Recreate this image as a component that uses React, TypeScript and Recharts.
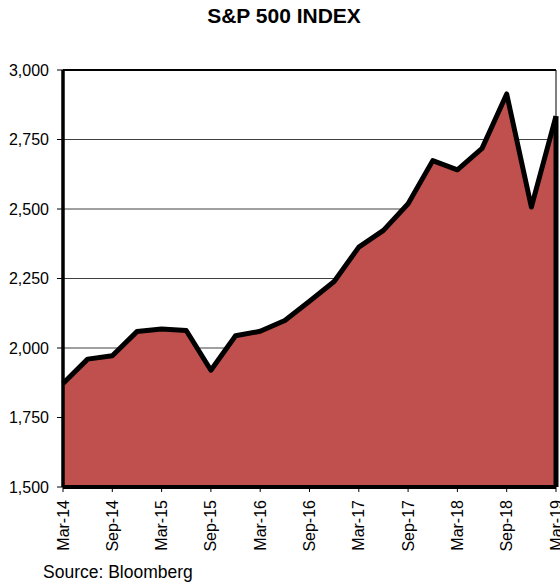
import React from "react";
import { AreaChart, Area, XAxis, YAxis, CartesianGrid, ReferenceLine } from "recharts";

// quarterly closes, Mar-14 .. Mar-19
const quarters = [
  "Mar-14", "Jun-14", "Sep-14", "Dec-14",
  "Mar-15", "Jun-15", "Sep-15", "Dec-15",
  "Mar-16", "Jun-16", "Sep-16", "Dec-16",
  "Mar-17", "Jun-17", "Sep-17", "Dec-17",
  "Mar-18", "Jun-18", "Sep-18", "Dec-18",
  "Mar-19",
];
const spx = [
  1872, 1960, 1972, 2059,
  2068, 2063, 1920, 2044,
  2060, 2099, 2168, 2239,
  2363, 2423, 2519, 2674,
  2641, 2718, 2914, 2507,
  2834,
];
const yTicks = [1500, 1750, 2000, 2250, 2500, 2750, 3000];

const data = quarters.map((q, i) => ({ q, v: spx[i] }));
const FONT = "'Liberation Sans', Arial, sans-serif";

function XTick({ x, y, payload }: any) {
  return (
    <g transform={`translate(${x + 5.5},${y + 6}) rotate(-90)`}>
      <text x={0} y={0} textAnchor="end" fontSize={16} fill="#000" fontFamily={FONT}>
        {payload.value}
      </text>
    </g>
  );
}

export default function App() {
  const last = quarters[quarters.length - 1];
  return (
    <div style={{ position: "absolute", left: 0, top: 0, width: 560, height: 587, background: "#fff", fontFamily: FONT }}>
      <div style={{ position: "absolute", left: 0, top: 4, width: 568, textAlign: "center", fontSize: 21, fontWeight: "bold" }}>
        S&amp;P 500 INDEX
      </div>
      <AreaChart width={560} height={560} data={data} margin={{ top: 70, right: 4, left: 0, bottom: 3 }}>
        <CartesianGrid horizontal vertical={false} stroke="#404040" strokeWidth={1} />
        <XAxis
          dataKey="q"
          interval={1}
          height={70}
          tick={<XTick />}
          tickSize={5}
          tickLine={{ stroke: "#000", strokeWidth: 1 }}
          axisLine={{ stroke: "#000", strokeWidth: 4 }}
        />
        <YAxis
          width={63}
          domain={[1500, 3000]}
          ticks={yTicks}
          tickFormatter={(v: number) => v.toLocaleString("en-US")}
          tick={{ fill: "#000", fontSize: 16, fontFamily: FONT }}
          tickSize={6}
          tickMargin={8}
          tickLine={{ stroke: "#000", strokeWidth: 1 }}
          axisLine={{ stroke: "#000", strokeWidth: 3.5 }}
        />
        <Area
          type="linear"
          dataKey="v"
          stroke="#000"
          strokeWidth={5}
          strokeLinejoin="round"
          fill="#C0504D"
          fillOpacity={1}
          isAnimationActive={false}
        />
        <ReferenceLine y={3000} stroke="#000" strokeWidth={2} />
        <ReferenceLine x={last} stroke="#000" strokeWidth={1} />
        <ReferenceLine
          segment={[{ x: last, y: 1500 }, { x: last, y: spx[spx.length - 1] }]}
          stroke="#000"
          strokeWidth={5}
        />
      </AreaChart>
      <div style={{ position: "absolute", left: 43, top: 562, fontSize: 17.5 }}>Source: Bloomberg</div>
    </div>
  );
}
